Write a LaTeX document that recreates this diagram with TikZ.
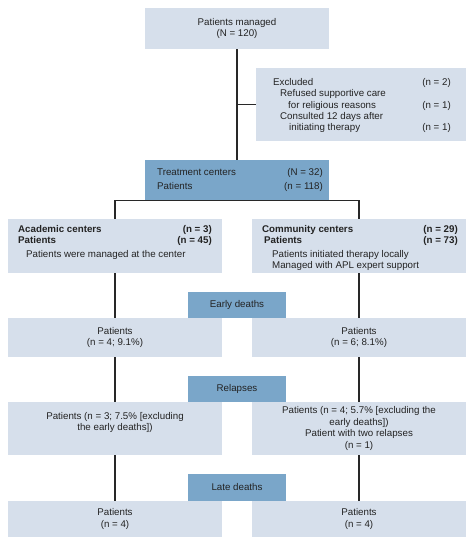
\documentclass[tikz,border=0pt]{standalone}
\usepackage{fontspec}
\setmainfont{Liberation Sans}
\definecolor{lightbox}{RGB}{214,223,235}
\definecolor{darkbox}{RGB}{122,166,201}
\definecolor{linec}{RGB}{40,40,40}
\definecolor{txtc}{RGB}{35,35,35}
\begin{document}
\begin{tikzpicture}[x=1pt,y=-1pt,
  font=\fontsize{9.75}{11.8}\selectfont,
  every node/.style={text=txtc},
  lbox/.style={rectangle, inner sep=0pt, fill=lightbox, align=center},
  dbox/.style={rectangle, inner sep=0pt, fill=darkbox, align=center},
  tl/.style={anchor=base west, inner sep=0pt},
  tr/.style={anchor=base east, inner sep=0pt},
  conn/.style={draw=linec, line width=1.4pt}
]
\useasboundingbox (0,0) rectangle (474,546);

% boxes
\node[lbox, minimum width=184pt, minimum height=41pt] (top) at (237,28.5) {Patients managed\\(N = 120)};
\node[lbox, minimum width=210pt, minimum height=73pt] (excl) at (361,104.5) {};
\node[dbox, minimum width=184pt, minimum height=40pt] (treat) at (237,180) {};
\node[lbox, minimum width=214pt, minimum height=54pt] (acad) at (115,246) {};
\node[lbox, minimum width=214pt, minimum height=54pt] (comm) at (359,246) {};
\node[lbox, minimum width=214pt, minimum height=39pt] (edl) at (115,337.5) {Patients\\(n = 4; 9.1\%)};
\node[lbox, minimum width=214pt, minimum height=39pt] (edr) at (359,337.5) {Patients\\(n = 6; 8.1\%)};
\node[lbox, minimum width=214pt, minimum height=53pt] (rel) at (115,428.5) {};
\node[lbox, minimum width=214pt, minimum height=53pt] (rer) at (359,428.5) {Patients (n = 4; 5.7\% [excluding the\\early deaths])\\Patient with two relapses\\(n = 1)};
\node[lbox, minimum width=214pt, minimum height=36pt] (ldl) at (115,519) {Patients\\(n = 4)};
\node[lbox, minimum width=214pt, minimum height=36pt] (ldr) at (359,519) {Patients\\(n = 4)};
\node[dbox, minimum width=98pt, minimum height=26pt] (early) at (237,305) {Early deaths};
\node[dbox, minimum width=98pt, minimum height=26pt] (relapses) at (237,389) {Relapses};
\node[dbox, minimum width=98pt, minimum height=27pt] (late) at (237,487.5) {Late deaths};

% excluded text
\node[tl] (ex1) at (273,85.5) {Excluded};
\node[tr] (ex1n) at (451,85.5) {(n = 2)};
\node[tl] (ex2) at (280,96.8) {Refused supportive care};
\node[tl] (ex3) at (288,108.1) {for religious reasons};
\node[tr] (ex3n) at (451,108.1) {(n = 1)};
\node[tl] (ex4) at (280,119.4) {Consulted 12 days after};
\node[tl] (ex5) at (289,130.7) {initiating therapy};
\node[tr] (ex5n) at (451,130.7) {(n = 1)};

% treatment text
\node[tl] (tr1) at (157,175.5) {Treatment centers};
\node[tr] (tr1n) at (323,175.5) {(N = 32)};
\node[tl] (tr2) at (157,189.5) {Patients};
\node[tr] (tr2n) at (323,189.5) {(n = 118)};

% academic text
\node[tl] (ac1) at (18,232.5) {\bfseries Academic centers};
\node[tr] (ac1n) at (212,232.5) {\bfseries (n = 3)};
\node[tl] (ac2) at (18,243.5) {\bfseries Patients};
\node[tr] (ac2n) at (212,243.5) {\bfseries (n = 45)};
\node[tl] (ac3) at (26,257) {Patients were managed at the center};

% community text
\node[tl] (co1) at (262,232.5) {\bfseries Community centers};
\node[tr] (co1n) at (458,232.5) {\bfseries (n = 29)};
\node[tl] (co2) at (264,243.5) {\bfseries Patients};
\node[tr] (co2n) at (458,243.5) {\bfseries (n = 73)};
\node[tl] (co3) at (272,257) {Patients initiated therapy locally};
\node[tl] (co4) at (272,268) {Managed with APL expert support};

% relapse left text
\node[align=center, inner sep=0pt] (reltxt) at (115,422.5) {Patients (n = 3; 7.5\% [excluding\\the early deaths])};

% connectors
\draw[conn] (top.south) -- (treat.north);
\draw[conn] (excl.west) -- (excl.west -| top.south);
\draw[conn] (acad.north) |- (treat.south) -| (comm.north);
\draw[conn] (acad.south) -- (edl.north);
\draw[conn] (comm.south) -- (edr.north);
\draw[conn] (edl.south) -- (rel.north);
\draw[conn] (edr.south) -- (rer.north);
\draw[conn] (rel.south) -- (ldl.north);
\draw[conn] (rer.south) -- (ldr.north);
\end{tikzpicture}
\end{document}
